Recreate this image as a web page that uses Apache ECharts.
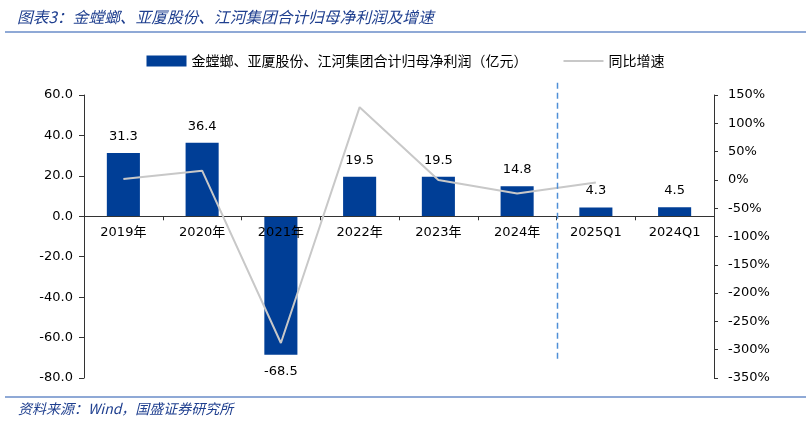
<!DOCTYPE html>
<html>
<head>
<meta charset="utf-8">
<script src="https://cdn.jsdelivr.net/npm/echarts@6/dist/echarts.min.js"></script>
<style>
html,body{margin:0;padding:0;background:#fff;}
#c{width:811px;height:424px;}
</style>
</head>
<body>
<div id="c"></div>
<script>
const categories = ['2019年','2020年','2021年','2022年','2023年','2024年','2025Q1','2024Q1'];
const profit = [31.3, 36.4, -68.5, 19.5, 19.5, 14.8, 4.3, 4.5];
const growth = [1.5, 16.3, -288.2, 128.5, 0.0, -24.1, -4.4, null];
const dividerAfterIndex = 5;
const dividerY = [66, -70.5];
const barName = '金螳螂、亚厦股份、江河集团合计归母净利润（亿元）';
const lineName = '同比增速';

const CJK = '"Noto Sans CJK SC", sans-serif';
const NUM = '"DejaVu Sans", "Noto Sans CJK SC", sans-serif';
const chart = echarts.init(document.getElementById('c'));

function baseGraphics() {
  return [
    {type: 'line', shape: {x1: 5, y1: 32, x2: 806, y2: 32}, style: {stroke: '#6A8CC8', lineWidth: 1.5}},
    {type: 'line', shape: {x1: 5, y1: 397, x2: 806, y2: 397}, style: {stroke: '#6A8CC8', lineWidth: 1.5}},
    {type: 'text', left: 18, top: 402, style: {text: '资料来源：Wind，国盛证券研究所', font: 'italic 14px ' + CJK, fill: '#1F3F8F'}}
  ];
}

chart.setOption({
  animation: false,
  textStyle: {fontFamily: NUM},
  title: {
    text: '图表3：金螳螂、亚厦股份、江河集团合计归母净利润及增速',
    left: 12, top: 4,
    textStyle: {fontFamily: CJK, fontStyle: 'italic', fontWeight: 'normal', fontSize: 15.7, color: '#1F3F8F'}
  },
  graphic: baseGraphics(),
  legend: {
    top: 49, left: 'center',
    data: [
      {name: barName, icon: 'rect'},
      {name: lineName, icon: 'path://M0,0 L40,0 L40,2 L0,2 Z'}
    ],
    itemWidth: 40, itemHeight: 11, itemGap: 36,
    textStyle: {fontSize: 14, color: '#000', fontFamily: CJK}
  },
  grid: {left: 84, right: 97, top: 95, bottom: 46},
  xAxis: {
    type: 'category', data: categories, z: 3,
    axisLine: {onZero: false, lineStyle: {color: '#333'}},
    axisTick: {show: true, length: 4, lineStyle: {color: '#333'}},
    axisLabel: {fontSize: 13, color: '#000', margin: 10}
  },
  yAxis: [
    {
      type: 'value', min: -80, max: 60, interval: 20,
      splitLine: {show: false},
      axisLine: {show: true, lineStyle: {color: '#333'}},
      axisTick: {show: true, length: 5, lineStyle: {color: '#333'}},
      axisLabel: {fontSize: 13, color: '#000', formatter: v => v.toFixed(1), margin: 11}
    },
    {
      type: 'value', min: -350, max: 150, interval: 50,
      splitLine: {show: false},
      axisLine: {show: true, lineStyle: {color: '#333'}},
      axisTick: {show: true, length: 4, lineStyle: {color: '#333'}},
      axisLabel: {fontSize: 13, color: '#000', formatter: v => v + '%', margin: 14}
    }
  ],
  series: [
    {
      name: barName, type: 'bar', barWidth: '42%',
      itemStyle: {color: '#003E96'},
      data: profit.map(v => ({value: v, label: {position: v < 0 ? 'bottom' : 'top'}})),
      label: {show: true, fontSize: 13, color: '#000', distance: 10, formatter: p => p.value.toFixed(1)},
      z: 2
    },
    {
      name: lineName, type: 'line', yAxisIndex: 1,
      data: growth, symbol: 'none', connectNulls: false,
      lineStyle: {color: '#C8C8C8', width: 2},
      itemStyle: {color: '#C8C8C8'},
      z: 4
    }
  ]
});

// move the category axis (line, ticks, labels) up to the zero level of the left axis
const yZero = chart.convertToPixel({yAxisIndex: 0}, 0);
const yBottom = chart.convertToPixel({yAxisIndex: 0}, -80);
// vertical dashed divider between the annual and quarterly groups, placed via the chart's own scales
const xa = chart.convertToPixel({xAxisIndex: 0}, categories[dividerAfterIndex]);
const xb = chart.convertToPixel({xAxisIndex: 0}, categories[dividerAfterIndex + 1]);
const xd = Math.round((xa + xb) / 2) + 0.5;
const y1 = chart.convertToPixel({yAxisIndex: 0}, dividerY[0]);
const y2 = chart.convertToPixel({yAxisIndex: 0}, dividerY[1]);
chart.setOption({
  xAxis: {offset: -(yBottom - yZero)},
  graphic: baseGraphics().concat([
    {type: 'line', z: 10, shape: {x1: xd, y1: y1, x2: xd, y2: y2}, style: {stroke: '#4F8FD6', lineWidth: 1.5, lineDash: [6, 4]}}
  ])
});
</script>
</body>
</html>
